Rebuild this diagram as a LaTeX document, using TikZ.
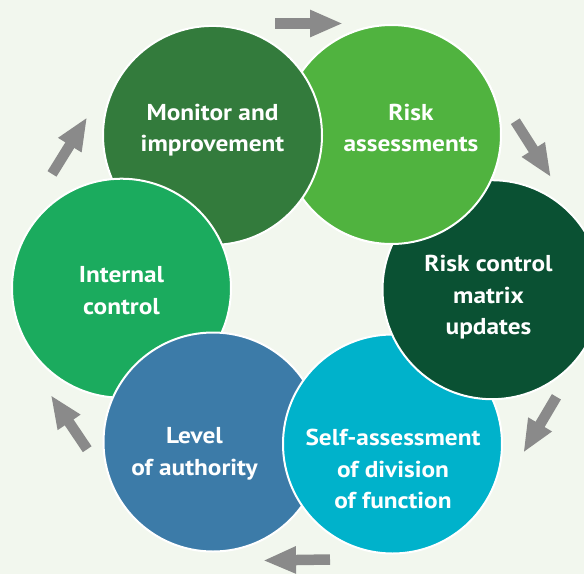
\documentclass[tikz,border=0pt]{standalone}
\usepackage{fontspec}
\setmainfont{PT Sans}
\newfontfamily\lblfont{PT Sans}[FakeStretch=1.1]
\usetikzlibrary{arrows.meta}
\definecolor{bg}{HTML}{F2F7EE}
\definecolor{cMonitor}{HTML}{337B3C}
\definecolor{cRisk}{HTML}{50B33F}
\definecolor{cMatrix}{HTML}{0A5133}
\definecolor{cSelf}{HTML}{00B2CB}
\definecolor{cLevel}{HTML}{3C7BA8}
\definecolor{cInternal}{HTML}{1BAB5E}
\definecolor{cArrow}{HTML}{8A8A8A}
\tikzset{
  disc/.style={circle, minimum size=219pt, inner sep=0pt, draw=white, line width=2pt},
  lbl/.style={text=white, align=center, inner sep=0pt,
    font=\lblfont\fontsize{23}{31.5}\selectfont\bfseries,
    execute at begin node=\strut, execute at end node=\strut},
  blockarrow/.style={draw=cArrow, line width=10.5pt,
    -{Triangle[length=33pt, width=25pt]}}
}
\begin{document}
\begin{tikzpicture}[x=1pt, y=-1pt]
\fill[bg] (0,0) rectangle (584,574);
\useasboundingbox (0,0) rectangle (584,574);
\begin{scope}
\clip (0,0) rectangle (584,574);
\node[disc, fill=cRisk] (risk) at (391.5,134.5) {};
\node[disc, fill=cMonitor] (monitor) at (212.5,135.4) {};
\node[disc, fill=cInternal] (internal) at (121.5,288.2) {};
\node[disc, fill=cLevel] (level) at (213,442) {};
\node[disc, fill=cSelf] (self) at (392.5,444) {};
\node[disc, fill=cMatrix] (matrix) at (492,289.7) {};
\begin{scope}
\clip (335,0) rectangle (584,300);
\node[disc, fill=cRisk] (riskover) at (risk.center) {};
\end{scope}
\end{scope}
% labels
\node[lbl] (tMonitor) at (212.5,132.5) {Monitor and\\improvement};
\node[lbl] (tRisk) at (411,132.5) {Risk\\assessments};
\node[lbl] (tMatrix) at (488.5,300) {Risk control\\matrix\\updates};
\node[lbl] (tSelf) at (393,474) {Self-assessment\\of division\\of function};
\node[lbl] (tLevel) at (194.5,456) {Level\\of authority};
\node[lbl] (tInternal) at (121.5,295) {Internal\\control};
% arrows
\coordinate (a1s) at (275,23.5);   \coordinate (a1e) at (343,23.5);
\coordinate (a2s) at (515.3,121.2); \coordinate (a2e) at (551,177.3);
\coordinate (a3s) at (556.4,396.8); \coordinate (a3e) at (523.3,452.8);
\coordinate (a4s) at (330,559.5);  \coordinate (a4e) at (263,560.5);
\coordinate (a5s) at (87.2,449.2); \coordinate (a5e) at (50.7,395);
\coordinate (a6s) at (52,173.9);   \coordinate (a6e) at (87.2,117.1);
\draw[blockarrow] (a1s) -- (a1e);
\draw[blockarrow] (a2s) -- (a2e);
\draw[blockarrow] (a3s) -- (a3e);
\draw[blockarrow] (a4s) -- (a4e);
\draw[blockarrow] (a5s) -- (a5e);
\draw[blockarrow] (a6s) -- (a6e);
\end{tikzpicture}
\end{document}
